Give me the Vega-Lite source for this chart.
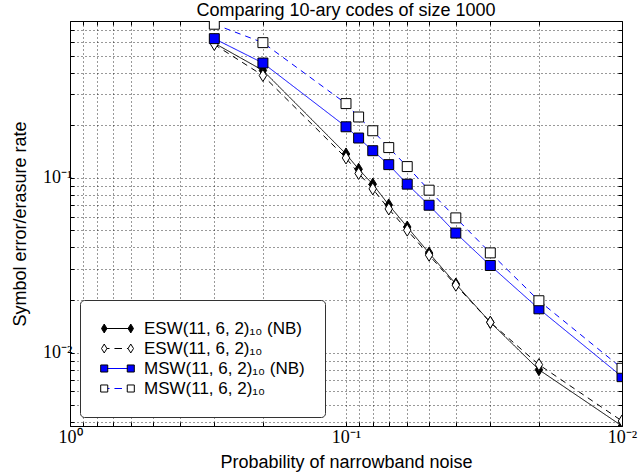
{
  "$schema": "https://vega.github.io/schema/vega-lite/v6.json",
  "width": 552,
  "height": 405,
  "autosize": {"type": "none"},
  "padding": {"left": 70, "top": 21, "right": 17, "bottom": 50},
  "background": "white",
  "config": {
    "font": "Liberation Sans",
    "view": {"stroke": "black", "strokeWidth": 1}
  },
  "title": {"text": "Comparing 10-ary codes of size 1000", "font": "Liberation Sans", "fontSize": 18, "fontWeight": "normal", "color": "black", "offset": 1, "anchor": "middle"},
  "data": {"values": [
    {"p": 0.3, "v": 0.59, "s": "ESW(11, 6, 2)₁₀ (NB)"},
    {"p": 0.2, "v": 0.412, "s": "ESW(11, 6, 2)₁₀ (NB)"},
    {"p": 0.1, "v": 0.137, "s": "ESW(11, 6, 2)₁₀ (NB)"},
    {"p": 0.09, "v": 0.112, "s": "ESW(11, 6, 2)₁₀ (NB)"},
    {"p": 0.08, "v": 0.092, "s": "ESW(11, 6, 2)₁₀ (NB)"},
    {"p": 0.07, "v": 0.070, "s": "ESW(11, 6, 2)₁₀ (NB)"},
    {"p": 0.06, "v": 0.0523, "s": "ESW(11, 6, 2)₁₀ (NB)"},
    {"p": 0.05, "v": 0.0371, "s": "ESW(11, 6, 2)₁₀ (NB)"},
    {"p": 0.04, "v": 0.0247, "s": "ESW(11, 6, 2)₁₀ (NB)"},
    {"p": 0.03, "v": 0.0149, "s": "ESW(11, 6, 2)₁₀ (NB)"},
    {"p": 0.02, "v": 0.00798, "s": "ESW(11, 6, 2)₁₀ (NB)"},
    {"p": 0.01, "v": 0.0038, "s": "ESW(11, 6, 2)₁₀ (NB)"},
    {"p": 0.3, "v": 0.58, "s": "ESW(11, 6, 2)₁₀"},
    {"p": 0.2, "v": 0.385, "s": "ESW(11, 6, 2)₁₀"},
    {"p": 0.1, "v": 0.130, "s": "ESW(11, 6, 2)₁₀"},
    {"p": 0.09, "v": 0.106, "s": "ESW(11, 6, 2)₁₀"},
    {"p": 0.08, "v": 0.0865, "s": "ESW(11, 6, 2)₁₀"},
    {"p": 0.07, "v": 0.0664, "s": "ESW(11, 6, 2)₁₀"},
    {"p": 0.06, "v": 0.0502, "s": "ESW(11, 6, 2)₁₀"},
    {"p": 0.05, "v": 0.0361, "s": "ESW(11, 6, 2)₁₀"},
    {"p": 0.04, "v": 0.0243, "s": "ESW(11, 6, 2)₁₀"},
    {"p": 0.03, "v": 0.0149, "s": "ESW(11, 6, 2)₁₀"},
    {"p": 0.02, "v": 0.00853, "s": "ESW(11, 6, 2)₁₀"},
    {"p": 0.01, "v": 0.00406, "s": "ESW(11, 6, 2)₁₀"},
    {"p": 0.3, "v": 0.626, "s": "MSW(11, 6, 2)₁₀ (NB)"},
    {"p": 0.2, "v": 0.454, "s": "MSW(11, 6, 2)₁₀ (NB)"},
    {"p": 0.1, "v": 0.196, "s": "MSW(11, 6, 2)₁₀ (NB)"},
    {"p": 0.09, "v": 0.169, "s": "MSW(11, 6, 2)₁₀ (NB)"},
    {"p": 0.08, "v": 0.143, "s": "MSW(11, 6, 2)₁₀ (NB)"},
    {"p": 0.07, "v": 0.119, "s": "MSW(11, 6, 2)₁₀ (NB)"},
    {"p": 0.06, "v": 0.092, "s": "MSW(11, 6, 2)₁₀ (NB)"},
    {"p": 0.05, "v": 0.0697, "s": "MSW(11, 6, 2)₁₀ (NB)"},
    {"p": 0.04, "v": 0.0483, "s": "MSW(11, 6, 2)₁₀ (NB)"},
    {"p": 0.03, "v": 0.0315, "s": "MSW(11, 6, 2)₁₀ (NB)"},
    {"p": 0.02, "v": 0.0178, "s": "MSW(11, 6, 2)₁₀ (NB)"},
    {"p": 0.01, "v": 0.00728, "s": "MSW(11, 6, 2)₁₀ (NB)"},
    {"p": 0.3, "v": 0.757, "s": "MSW(11, 6, 2)₁₀"},
    {"p": 0.2, "v": 0.594, "s": "MSW(11, 6, 2)₁₀"},
    {"p": 0.1, "v": 0.266, "s": "MSW(11, 6, 2)₁₀"},
    {"p": 0.09, "v": 0.223, "s": "MSW(11, 6, 2)₁₀"},
    {"p": 0.08, "v": 0.186, "s": "MSW(11, 6, 2)₁₀"},
    {"p": 0.07, "v": 0.149, "s": "MSW(11, 6, 2)₁₀"},
    {"p": 0.06, "v": 0.116, "s": "MSW(11, 6, 2)₁₀"},
    {"p": 0.05, "v": 0.085, "s": "MSW(11, 6, 2)₁₀"},
    {"p": 0.04, "v": 0.059, "s": "MSW(11, 6, 2)₁₀"},
    {"p": 0.03, "v": 0.0372, "s": "MSW(11, 6, 2)₁₀"},
    {"p": 0.02, "v": 0.0198, "s": "MSW(11, 6, 2)₁₀"},
    {"p": 0.01, "v": 0.00813, "s": "MSW(11, 6, 2)₁₀"}
  ]},
  "layer": [
    {
      "mark": {"type": "line", "clip": true, "strokeWidth": 1},
      "encoding": {
        "x": {"field": "p", "type": "quantitative",
          "scale": {"type": "log", "domain": [0.01, 1], "reverse": true, "nice": false},
          "axis": {"orient": "bottom", "values": [0.01,0.02,0.03,0.04,0.05,0.06,0.07,0.08,0.09,0.1,0.2,0.3,0.4,0.5,0.6,0.7,0.8,0.9,1],
            "labelExpr": "datum.value == 1 ? '10⁰' : datum.value == 0.1 ? '10⁻¹' : datum.value == 0.01 ? '10⁻²' : ''",
            "labelFont": "Liberation Serif", "labelFontSize": 18, "labelColor": "black", "labelPadding": 6, "labelOverlap": false, "labelFlush": false,
            "grid": true, "gridDash": [1, 3], "gridColor": "black", "gridOpacity": 0.8, "gridWidth": 1,
            "domain": false, "ticks": true, "tickSize": -4, "tickColor": "black",
            "title": "Probability of narrowband noise", "titleFont": "Liberation Sans", "titleFontSize": 18, "titleFontWeight": "normal", "titleColor": "black", "titlePadding": 7}},
        "y": {"field": "v", "type": "quantitative",
          "scale": {"type": "log", "domain": [0.0038, 0.79], "nice": false},
          "axis": {"orient": "left", "values": [0.004,0.005,0.006,0.007,0.008,0.009,0.01,0.02,0.03,0.04,0.05,0.06,0.07,0.08,0.09,0.1,0.2,0.3,0.4,0.5,0.6,0.7],
            "labelExpr": "datum.value == 0.1 ? '10⁻¹' : datum.value == 0.01 ? '10⁻²' : ''",
            "labelFont": "Liberation Serif", "labelFontSize": 18, "labelColor": "black", "labelPadding": 2, "labelOverlap": false, "labelFlush": false,
            "grid": true, "gridDash": [1, 3], "gridColor": "black", "gridOpacity": 0.8, "gridWidth": 1,
            "domain": false, "ticks": true, "tickSize": -4, "tickColor": "black",
            "title": "Symbol error/erasure rate", "titleFont": "Liberation Sans", "titleFontSize": 18, "titleFontWeight": "normal", "titleColor": "black", "titlePadding": 13}},
        "color": {"field": "s", "type": "nominal",
          "scale": {"domain": ["ESW(11, 6, 2)₁₀ (NB)", "ESW(11, 6, 2)₁₀", "MSW(11, 6, 2)₁₀ (NB)", "MSW(11, 6, 2)₁₀"], "range": ["black", "black", "blue", "blue"]},
          "legend": null},
        "strokeDash": {"field": "s", "type": "nominal",
          "scale": {"domain": ["ESW(11, 6, 2)₁₀ (NB)", "ESW(11, 6, 2)₁₀", "MSW(11, 6, 2)₁₀ (NB)", "MSW(11, 6, 2)₁₀"], "range": [[1, 0], [6, 5], [1, 0], [6, 5]]},
          "legend": null}
      }
    },
    {
      "mark": {"type": "point", "clip": true, "filled": true, "stroke": "black", "strokeWidth": 1, "opacity": 1, "size": 144},
      "encoding": {
        "x": {"field": "p", "type": "quantitative",
          "scale": {"type": "log", "domain": [0.01, 1], "reverse": true, "nice": false},
          "axis": {"orient": "top", "values": [0.01,0.02,0.03,0.04,0.05,0.06,0.07,0.08,0.09,0.1,0.2,0.3,0.4,0.5,0.6,0.7,0.8,0.9,1],
            "labels": false, "grid": false, "domain": false, "tickSize": -4, "tickColor": "black", "title": null}},
        "y": {"field": "v", "type": "quantitative",
          "scale": {"type": "log", "domain": [0.0038, 0.79], "nice": false},
          "axis": {"orient": "right", "values": [0.004,0.005,0.006,0.007,0.008,0.009,0.01,0.02,0.03,0.04,0.05,0.06,0.07,0.08,0.09,0.1,0.2,0.3,0.4,0.5,0.6,0.7],
            "labels": false, "grid": false, "domain": false, "tickSize": -4, "tickColor": "black", "title": null}},
        "shape": {"field": "s", "type": "nominal",
          "scale": {"domain": ["ESW(11, 6, 2)₁₀ (NB)", "ESW(11, 6, 2)₁₀", "MSW(11, 6, 2)₁₀ (NB)", "MSW(11, 6, 2)₁₀"],
            "range": ["M0,-1L0.62,0L0,1L-0.62,0Z", "M0,-1L0.62,0L0,1L-0.62,0Z", "M-0.83,-0.83H0.83V0.83H-0.83Z", "M-0.83,-0.83H0.83V0.83H-0.83Z"]},
          "legend": null},
        "fill": {"field": "s", "type": "nominal",
          "scale": {"domain": ["ESW(11, 6, 2)₁₀ (NB)", "ESW(11, 6, 2)₁₀", "MSW(11, 6, 2)₁₀ (NB)", "MSW(11, 6, 2)₁₀"], "range": ["black", "white", "blue", "white"]},
          "legend": null}
      }
    },
    {
      "transform": [{"filter": "false"}],
      "mark": {"type": "point", "filled": false, "strokeWidth": 1, "opacity": 1},
      "encoding": {
        "shape": {"field": "s", "type": "nominal",
          "scale": {"domain": ["ESW(11, 6, 2)₁₀ (NB)", "ESW(11, 6, 2)₁₀", "MSW(11, 6, 2)₁₀ (NB)", "MSW(11, 6, 2)₁₀"],
            "range": ["M-1.66,0H1.66", "M-1.66,0H-1.0M-0.38,0H0.56M1.18,0H1.66", "M-1.66,0H1.66", "M-1.66,0H-1.0M-0.38,0H0.56M1.18,0H1.66"]},
          "legend": {"title": null, "orient": "none", "legendX": 10, "legendY": 279, "direction": "vertical",
            "padding": 20, "strokeColor": "#333333", "fillColor": "white", "cornerRadius": 4,
            "symbolSize": 256, "symbolStrokeWidth": 1, "symbolOffset": 9, "rowPadding": 2,
            "labelFont": "Liberation Sans", "labelFontSize": 17, "labelColor": "black", "labelOffset": 18, "labelLimit": 0}},
        "color": {"field": "s", "type": "nominal",
          "scale": {"domain": ["ESW(11, 6, 2)₁₀ (NB)", "ESW(11, 6, 2)₁₀", "MSW(11, 6, 2)₁₀ (NB)", "MSW(11, 6, 2)₁₀"], "range": ["black", "black", "blue", "blue"]},
          "legend": {"title": null, "orient": "none", "legendX": 10, "legendY": 279, "direction": "vertical",
            "padding": 20, "strokeColor": "#333333", "fillColor": "white", "cornerRadius": 4,
            "symbolSize": 256, "symbolStrokeWidth": 1, "symbolOffset": 9, "rowPadding": 2,
            "labelFont": "Liberation Sans", "labelFontSize": 17, "labelColor": "black", "labelOffset": 18, "labelLimit": 0}}
      }
    },
    {
      "transform": [{"filter": "false"}],
      "mark": {"type": "point", "filled": true, "strokeWidth": 1, "opacity": 1},
      "encoding": {
        "stroke": {"value": "black"},
        "shape": {"field": "s", "type": "nominal",
          "scale": {"domain": ["ESW(11, 6, 2)₁₀ (NB)", "ESW(11, 6, 2)₁₀", "MSW(11, 6, 2)₁₀ (NB)", "MSW(11, 6, 2)₁₀", "none"],
            "range": ["M-1.66,-0.56L-1.32,0L-1.66,0.56L-2.0,0Z M1.66,-0.56L2.0,0L1.66,0.56L1.32,0Z", "M-1.66,-0.56L-1.32,0L-1.66,0.56L-2.0,0Z M1.66,-0.56L2.0,0L1.66,0.56L1.32,0Z", "M-2.1,-0.44H-1.22V0.44H-2.1Z M1.22,-0.44H2.1V0.44H1.22Z", "M-2.1,-0.44H-1.22V0.44H-2.1Z M1.22,-0.44H2.1V0.44H1.22Z", "circle"]},
          "legend": {"title": null, "orient": "none", "legendX": 10, "legendY": 279, "direction": "vertical",
            "values": ["ESW(11, 6, 2)₁₀ (NB)", "ESW(11, 6, 2)₁₀", "MSW(11, 6, 2)₁₀ (NB)", "MSW(11, 6, 2)₁₀"],
            "padding": 20, "strokeColor": "transparent", "fillColor": "transparent",
            "symbolSize": 256, "symbolStrokeWidth": 1, "symbolOffset": 9, "rowPadding": 2,
            "labelFont": "Liberation Sans", "labelFontSize": 17, "labelColor": "transparent", "labelOffset": 18, "labelLimit": 0}},
        "fill": {"field": "s", "type": "nominal",
          "scale": {"domain": ["ESW(11, 6, 2)₁₀ (NB)", "ESW(11, 6, 2)₁₀", "MSW(11, 6, 2)₁₀ (NB)", "MSW(11, 6, 2)₁₀", "none"], "range": ["black", "white", "blue", "white", "white"]},
          "legend": {"title": null, "orient": "none", "legendX": 10, "legendY": 279, "direction": "vertical",
            "values": ["ESW(11, 6, 2)₁₀ (NB)", "ESW(11, 6, 2)₁₀", "MSW(11, 6, 2)₁₀ (NB)", "MSW(11, 6, 2)₁₀"],
            "padding": 20, "strokeColor": "transparent", "fillColor": "transparent",
            "symbolSize": 256, "symbolStrokeWidth": 1, "symbolOffset": 9, "rowPadding": 2,
            "labelFont": "Liberation Sans", "labelFontSize": 17, "labelColor": "transparent", "labelOffset": 18, "labelLimit": 0}}
      }
    }
  ],
  "resolve": {
    "scale": {"shape": "independent", "fill": "independent", "color": "independent"},
    "axis": {"x": "independent", "y": "independent"}
  }
}
